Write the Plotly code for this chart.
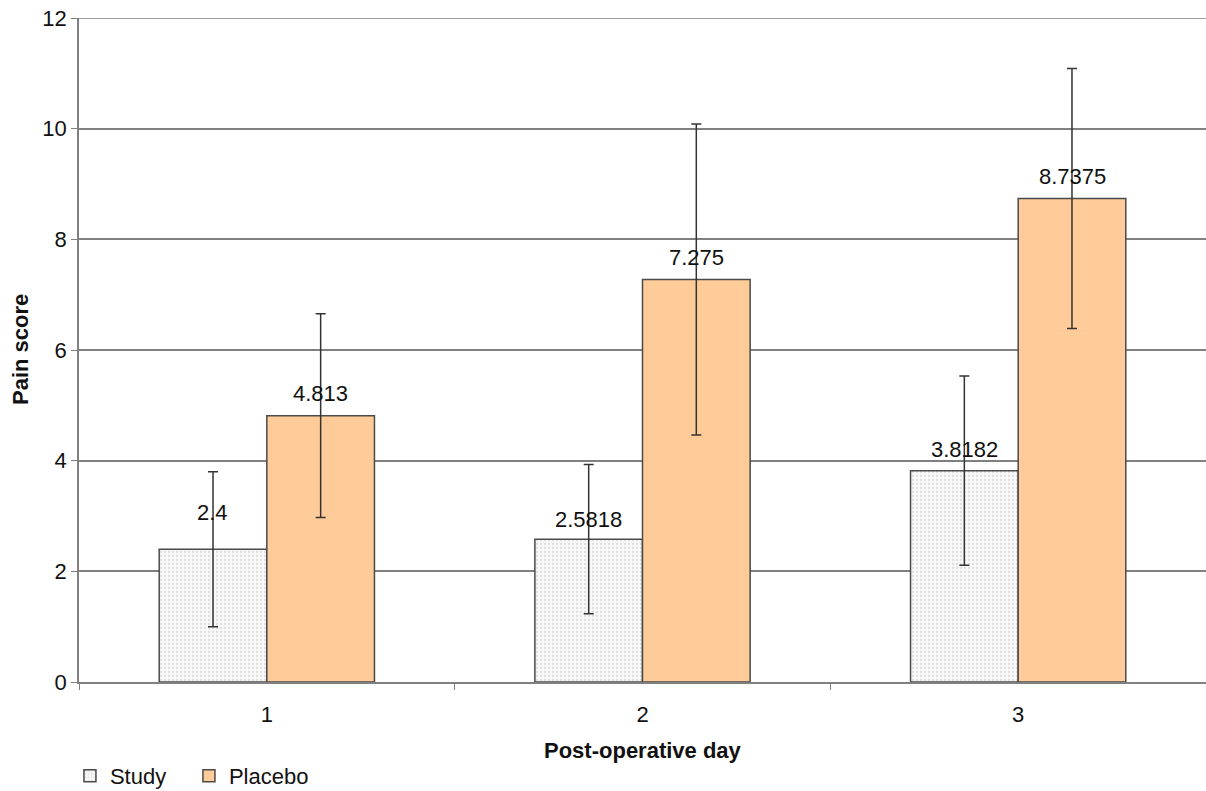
import plotly.graph_objects as go

days = ["1", "2", "3"]
study = [2.4, 2.5818, 3.8182]
placebo = [4.813, 7.275, 8.7375]
study_err = [1.4, 1.35, 1.71]
placebo_err = [1.84, 2.81, 2.35]
study_labels = ["2.4", "2.5818", "3.8182"]
placebo_labels = ["4.813", "7.275", "8.7375"]
y_max = 12

FONT = "Liberation Sans, Arial, sans-serif"
EDGE = "#4a4a4a"
FS = 22

fig = go.Figure()
fig.add_trace(go.Bar(
    name="Study", x=days, y=study,
    marker=dict(color="#f4f4f4", line=dict(color=EDGE, width=1.5),
                pattern=dict(shape=".", size=4, solidity=0.25, fgcolor="#c4c4c4", bgcolor="#f8f8f8")),
    error_y=dict(type="data", array=study_err, color="#333333", thickness=1.5, width=5),
))
fig.add_trace(go.Bar(
    name="Placebo", x=days, y=placebo,
    marker=dict(color="#FFCC99", line=dict(color=EDGE, width=1.5)),
    error_y=dict(type="data", array=placebo_err, color="#333333", thickness=1.5, width=5),
))

study_shift = [37, 20, 21]
placebo_shift = [22, 22, 22]
for i, d in enumerate(days):
    fig.add_annotation(x=i, y=study[i], text=study_labels[i], showarrow=False,
                       xshift=-54, yshift=study_shift[i], yanchor="middle",
                       font=dict(family=FONT, size=FS, color="#111"))
    fig.add_annotation(x=i, y=placebo[i], text=placebo_labels[i], showarrow=False,
                       xshift=54, yshift=placebo_shift[i], yanchor="middle",
                       font=dict(family=FONT, size=FS, color="#111"))

# axis titles
fig.add_annotation(text="<b>Post-operative day</b>", xref="paper", yref="paper", x=0.5, y=0,
                   yshift=-68, yanchor="middle", showarrow=False,
                   font=dict(family=FONT, size=FS, color="#111"))
fig.add_annotation(text="<b>Pain score</b>", xref="paper", yref="paper", x=0, y=0.5,
                   xshift=-59, xanchor="center", yanchor="middle", textangle=-90, showarrow=False,
                   font=dict(family=FONT, size=FS, color="#111"))

# top gridline
fig.add_shape(type="line", xref="paper", yref="y", x0=0, x1=1, y0=y_max, y1=y_max,
              line=dict(color="#808080", width=1.5), layer="below")

fig.update_layout(
    width=1206, height=791,
    margin=dict(l=79, r=0, t=18, b=109),
    paper_bgcolor="white", plot_bgcolor="white",
    barmode="group", bargap=0.427, bargroupgap=0,
    font=dict(family=FONT, size=FS, color="#111"),
    showlegend=True,
    legend=dict(orientation="h", x=0.058, xref="container", xanchor="left",
                y=0.019, yref="container", yanchor="middle",
                font=dict(family=FONT, size=FS, color="#111"),
                itemwidth=30, entrywidth=74, entrywidthmode="pixels",
                tracegroupgap=0, bgcolor="rgba(0,0,0,0)"),
    xaxis=dict(type="category", showgrid=False, showline=True, linecolor="#808080", linewidth=1.5,
               ticks="outside", tickson="boundaries", ticklen=6, tickcolor="#808080",
               ticklabelstandoff=12, automargin=False,
               tickfont=dict(family=FONT, size=FS, color="#111")),
    yaxis=dict(range=[0, y_max], dtick=2, showgrid=True, gridcolor="#808080", gridwidth=1.5,
               showline=True, linecolor="#808080", linewidth=1.5, zeroline=False,
               ticks="outside", ticklen=6, tickcolor="#808080", automargin=False,
               ticklabeloverflow="allow",
               tickfont=dict(family=FONT, size=FS, color="#111")),
)

fig.write_html("out.html", config={"displayModeBar": False},
               post_script="document.body.style.margin='0';")
